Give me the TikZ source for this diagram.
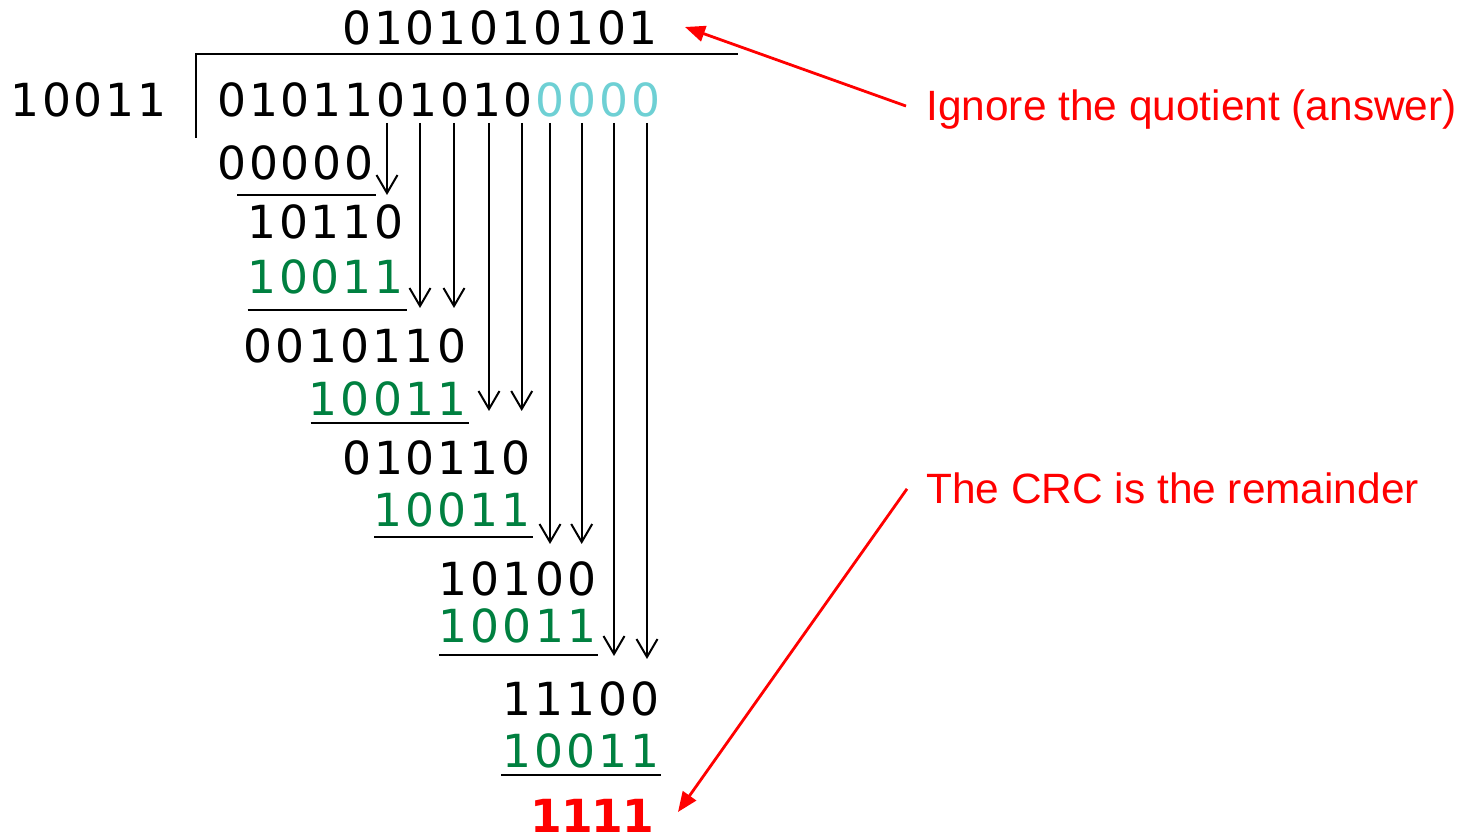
\documentclass[tikz,border=0pt]{standalone}
\usepackage{fontspec}
\usetikzlibrary{arrows.meta}
\newfontfamily\digfont{DejaVu Sans}
\newfontfamily\arialfont{Liberation Sans}
\definecolor{crcgreen}{RGB}{0,128,64}
\definecolor{crccyan}{RGB}{110,208,212}
\definecolor{crcred}{RGB}{255,0,0}
\newcommand\digrow[6]{%
  \foreach \dig [count=\idx] in {#6} {
    \node[#5, anchor=base] (#1-\idx) at ({#2+#4*(\idx-1)}, #3) {\dig};
  }%
}
\tikzset{
  digit/.style={font=\digfont\fontsize{22.8}{27}\selectfont, inner sep=0pt, text=black},
  gdigit/.style={digit, text=crcgreen},
  cdigit/.style={digit, text=crccyan},
  rdigit/.style={font=\digfont\bfseries\fontsize{22.8}{27}\selectfont, inner sep=0pt, text=crcred},
  note/.style={font=\arialfont\fontsize{21.2}{25}\selectfont, inner sep=0pt, text=crcred},
  barrow/.style={draw=black, line width=1pt, -{Straight Barb[length=9pt,width=10.5pt,line width=1pt]}},
  rarrow/.style={draw=crcred, line width=1.4pt, -{Triangle[length=10pt,width=8pt]}},
  uline/.style={draw=black, line width=1.2pt},
}
\begin{document}
\begin{tikzpicture}[x=0.5pt,y=-0.5pt]
\useasboundingbox (0,0) rectangle (1466,838);
% division bracket
\draw[uline] (196,138) -- (196,54) -- (738,54);
% quotient, divisor, dividend
\digrow{q}{356.7}{45}{31.85}{digit}{0,1,0,1,0,1,0,1,0,1}
\digrow{dv}{25}{117}{31.7}{digit}{1,0,0,1,1}
\digrow{dd}{231.7}{117}{31.85}{digit}{0,1,0,1,1,0,1,0,1,0}
\digrow{dz}{550.2}{117}{31.85}{cdigit}{0,0,0,0}
% steps
\digrow{ra}{231.7}{180}{31.85}{digit}{0,0,0,0,0}
\draw[uline] (237,195) -- (376,195);
\digrow{rb}{261.7}{239}{31.85}{digit}{1,0,1,1,0}
\digrow{ga}{261.7}{294}{31.85}{gdigit}{1,0,0,1,1}
\draw[uline] (247.7,310) -- (406.7,310);
\digrow{rc}{258}{363}{32.3}{digit}{0,0,1,0,1,1,0}
\digrow{gb}{323}{416}{32.3}{gdigit}{1,0,0,1,1}
\draw[uline] (310.7,423) -- (469,423);
\digrow{rd}{356.7}{475}{31.85}{digit}{0,1,0,1,1,0}
\digrow{gc}{388}{527}{32.1}{gdigit}{1,0,0,1,1}
\draw[uline] (374,537) -- (533,537);
\digrow{re}{453}{596}{32.2}{digit}{1,0,1,0,0}
\digrow{gd}{453}{643}{32.2}{gdigit}{1,0,0,1,1}
\draw[uline] (439,655) -- (597.7,655);
\digrow{rf}{516.7}{715}{32.1}{digit}{1,1,1,0,0}
\digrow{ge}{516.7}{767}{32.1}{gdigit}{1,0,0,1,1}
\draw[uline] (501,775) -- (660.7,775);
\digrow{rem}{546.7}{832}{30.5}{rdigit}{1,1,1,1}
% bring-down arrows
\foreach \k/\x/\y in {6/387/195, 7/420/308, 8/454/308, 9/489/411, 10/521.7/411,
                      11/550/544, 12/581.7/544, 13/614/656, 14/647/659} {
  \coordinate (top\k) at (\x,123);
  \coordinate (tip\k) at (\x,\y);
  \draw[barrow] (top\k) -- (tip\k);
}
% notes
\node[note, anchor=base west] (ign) at (926,121) {Ignore the quotient (answer)};
\node[note, anchor=base west] (crc) at (926,504) {The CRC is the remainder};
\coordinate (qtip) at (685,27);
\coordinate (crctip) at (678,812);
\draw[rarrow] ([xshift=-10pt,yshift=2pt]ign.west) -- (qtip);
\draw[rarrow] ([xshift=-9.5pt]crc.west) -- (crctip);
\end{tikzpicture}
\end{document}
